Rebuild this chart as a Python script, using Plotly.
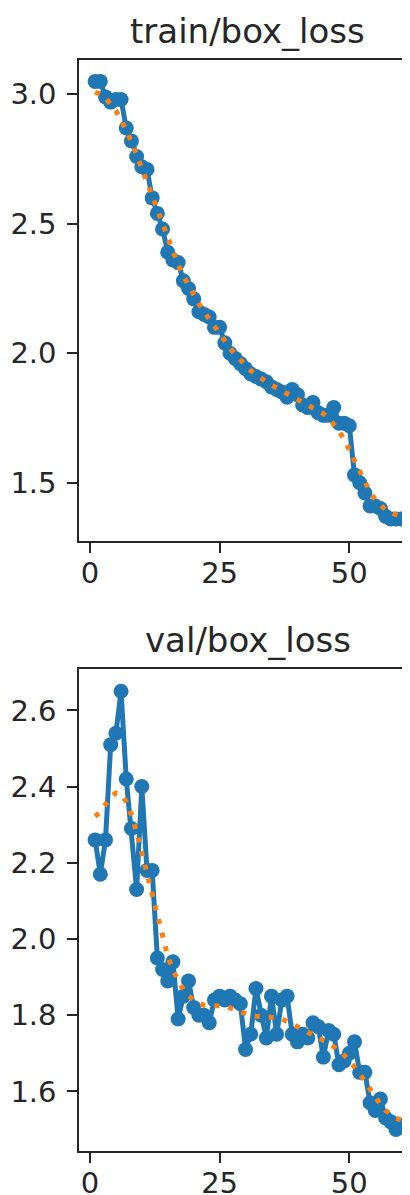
import numpy as np
import plotly.graph_objects as go

# ---------------- data ----------------
epochs = list(range(1, 61))

train_box_loss = [
    3.05, 3.05, 2.99, 2.97, 2.98, 2.98, 2.87, 2.82, 2.76, 2.72,
    2.71, 2.60, 2.54, 2.48, 2.39, 2.36, 2.35, 2.28, 2.25, 2.21,
    2.16, 2.15, 2.14, 2.10, 2.10, 2.04, 2.00, 1.98, 1.96, 1.94,
    1.92, 1.91, 1.90, 1.89, 1.87, 1.86, 1.85, 1.83, 1.86, 1.84,
    1.80, 1.79, 1.81, 1.77, 1.76, 1.76, 1.79, 1.73, 1.73, 1.72,
    1.53, 1.50, 1.46, 1.41, 1.41, 1.40, 1.37, 1.36, 1.36, 1.36,
]

val_box_loss = [
    2.26, 2.17, 2.26, 2.51, 2.54, 2.65, 2.42, 2.29, 2.13, 2.40,
    2.18, 2.18, 1.95, 1.92, 1.89, 1.94, 1.79, 1.85, 1.89, 1.82,
    1.80, 1.80, 1.78, 1.84, 1.85, 1.84, 1.85, 1.84, 1.83, 1.71,
    1.75, 1.87, 1.80, 1.74, 1.85, 1.75, 1.84, 1.85, 1.75, 1.73,
    1.75, 1.74, 1.78, 1.77, 1.69, 1.76, 1.75, 1.67, 1.68, 1.70,
    1.73, 1.65, 1.65, 1.57, 1.55, 1.58, 1.53, 1.52, 1.50, 1.51,
]

titles = ["train/box_loss", "val/box_loss"]
x_ticks = [0, 25, 50]
train_y_ticks = [1.5, 2.0, 2.5, 3.0]
val_y_ticks = [1.6, 1.8, 2.0, 2.2, 2.4, 2.6]


def smooth(y, sigma=3.0, truncate=4.0):
    """Gaussian smoothing of the measured series (the dotted 'smooth' line)."""
    y = np.asarray(y, dtype=float)
    r = int(truncate * sigma + 0.5)
    k = np.arange(-r, r + 1)
    w = np.exp(-0.5 * (k / sigma) ** 2)
    w /= w.sum()
    yp = np.pad(y, r, mode="symmetric")
    return np.convolve(yp, w, mode="valid")


# ---------------- layout geometry ----------------
# the page body has an 8px margin, so the figure is drawn 8px in from the
# window's top-left corner; all reference pixel positions are shifted by it
OFF = 8
W, H = 410 - OFF, 1195 - OFF


def fx(p):
    return (p - OFF) / W


def fy(p):
    return 1 - (p - OFF) / H


BLUE = "#1f77b4"
ORANGE = "#ff7f0e"
AX = "#262626"
FONT = "DejaVu Sans"

fig = go.Figure()

series = [train_box_loss, val_box_loss]
for i, ys in enumerate(series):
    xa = "x" if i == 0 else "x2"
    ya = "y" if i == 0 else "y2"
    fig.add_trace(go.Scatter(
        x=epochs, y=ys, mode="lines+markers", xaxis=xa, yaxis=ya,
        line=dict(color=BLUE, width=5),
        marker=dict(color=BLUE, size=15, line=dict(width=0)),
        showlegend=False, hoverinfo="skip",
    ))
    fig.add_trace(go.Scatter(
        x=epochs, y=smooth(ys), mode="lines", xaxis=xa, yaxis=ya,
        line=dict(color=ORANGE, width=5, dash="5px,9px"),
        showlegend=False, hoverinfo="skip",
    ))

xcommon = dict(
    range=[-2.05, 61.7], tickvals=x_ticks, ticktext=[str(t) for t in x_ticks],
    showgrid=False, zeroline=False, showline=True, mirror=True,
    linecolor=AX, linewidth=2, ticks="outside", ticklen=10, tickwidth=2,
    tickcolor=AX, tickfont=dict(family=FONT, size=29, color=AX),
    ticklabelstandoff=-5, domain=[fx(79.3), 1.0], automargin=False,
)
ycommon = dict(
    showgrid=False, zeroline=False, showline=True, mirror=False,
    linecolor=AX, linewidth=2, ticks="outside", ticklen=10, tickwidth=2,
    tickcolor=AX, tickfont=dict(family=FONT, size=29, color=AX),
    ticklabelstandoff=5, automargin=False,
)

fig.update_layout(
    width=W, height=H,
    margin=dict(l=0, r=0, t=0, b=0, pad=0),
    paper_bgcolor="white", plot_bgcolor="white",
    xaxis=dict(**xcommon, anchor="y"),
    xaxis2=dict(**xcommon, anchor="y2"),
    yaxis=dict(**ycommon, anchor="x", domain=[fy(540.8), fy(59.5)],
               range=[1.2755, 3.1345], tickvals=train_y_ticks,
               ticktext=[f"{v:.1f}" for v in train_y_ticks]),
    yaxis2=dict(**ycommon, anchor="x2", domain=[fy(1151.4), fy(669.4)],
                range=[1.4425, 2.7075], tickvals=val_y_ticks,
                ticktext=[f"{v:.1f}" for v in val_y_ticks]),
)

title_y = [31, 640]
for t, yp in zip(titles, title_y):
    fig.add_annotation(
        text=t, x=fx(248), y=fy(yp), xref="paper", yref="paper",
        xanchor="center", yanchor="middle", showarrow=False,
        font=dict(family=FONT, size=34, color=AX),
    )

fig.write_html("out.html")
